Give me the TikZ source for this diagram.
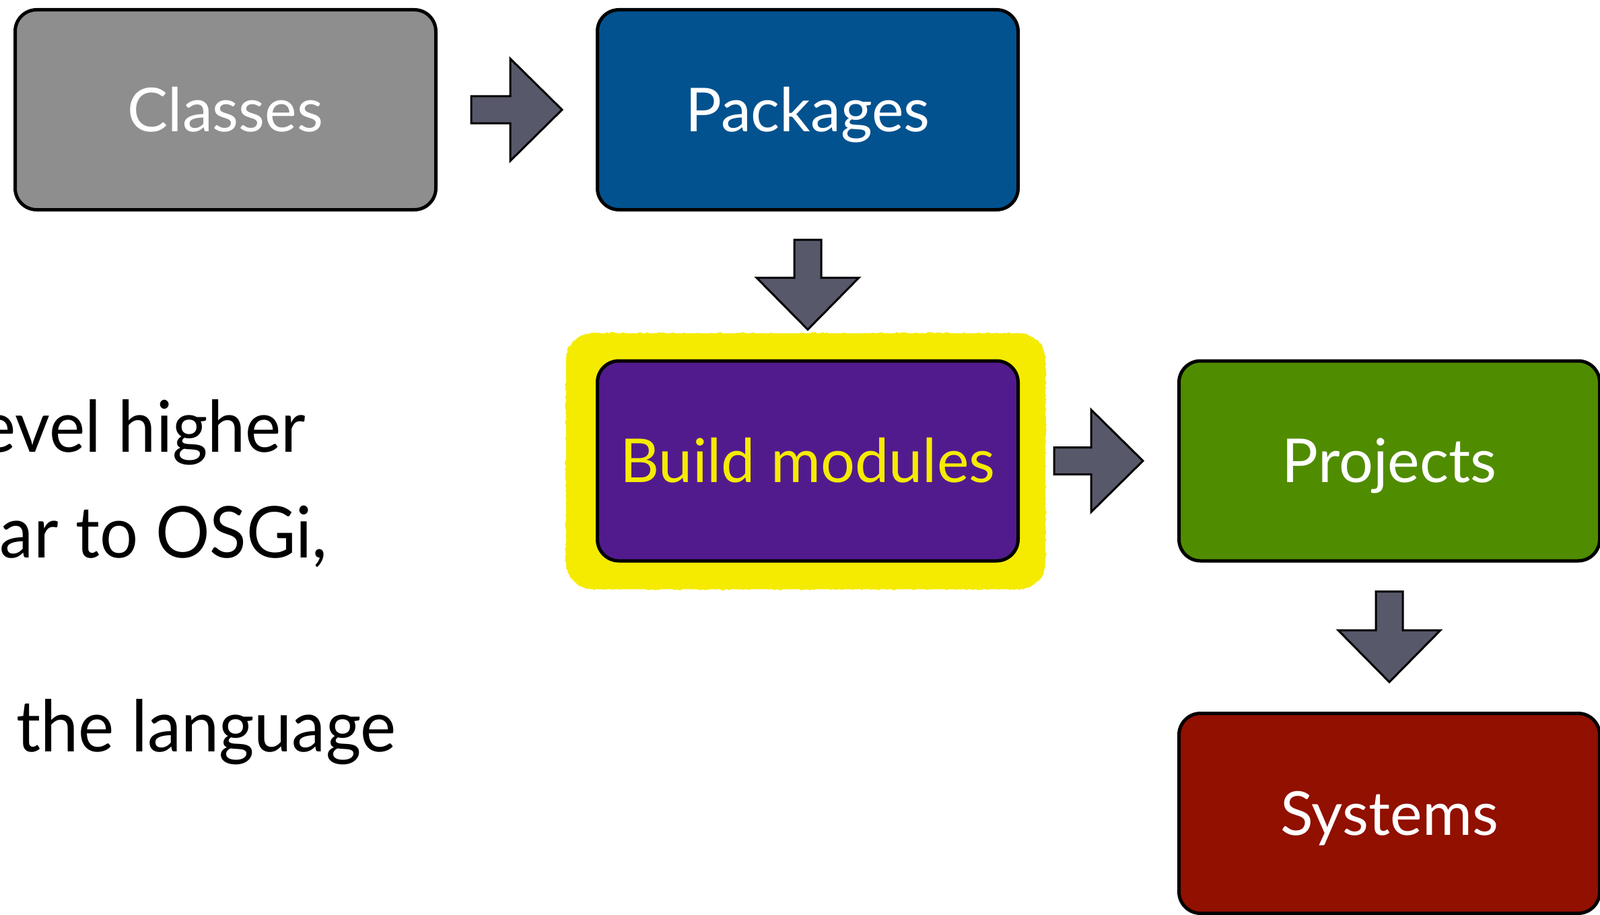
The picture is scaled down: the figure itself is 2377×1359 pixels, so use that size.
\documentclass[tikz,border=0pt]{standalone}
\usepackage{fontspec}
\setmainfont{Lato}
\newfontfamily\bodyfont[FakeStretch=0.95]{Lato}
\usetikzlibrary{calc,decorations.pathmorphing}
\definecolor{cgray}{HTML}{8E8E8E}
\definecolor{cblue}{HTML}{02528F}
\definecolor{cpurple}{HTML}{521B8D}
\definecolor{cgreen}{HTML}{508C00}
\definecolor{cred}{HTML}{911000}
\definecolor{carrow}{HTML}{575869}
\definecolor{cyellow}{HTML}{F5EB00}
\newcommand\blockarr[2]{%
  \coordinate (bh) at ($(#2)!38.5pt!(#1)$);
  \draw[blockarrow] ($(#1)!10pt!90:(#2)$) -- ($(bh)!10pt!-90:(#1)$) -- ($(bh)!38pt!-90:(#1)$) -- (#2)
    -- ($(bh)!38pt!90:(#1)$) -- ($(bh)!10pt!90:(#1)$) -- ($(#1)!10pt!-90:(#2)$) -- cycle;}
\newcommand\glowpath{(881,495) -- (1513,495) arc[start angle=-90, end angle=0, radius=40]
  -- (1553,835) arc[start angle=0, end angle=90, radius=40]
  -- (881,875) arc[start angle=90, end angle=180, radius=40]
  -- (841,535) arc[start angle=180, end angle=270, radius=40] -- cycle}
\begin{document}
\begin{tikzpicture}[x=0.5pt,y=-0.5pt,
  box/.style={draw=black, line width=2.5pt, rounded corners=16pt,
    minimum width=312.5pt, minimum height=148.5pt, inner sep=0pt,
    text=white, text height=32pt, text depth=0pt,
    font=\fontsize{45}{54}\selectfont},
  blockarrow/.style={draw=black, fill=carrow, line width=1.5pt, line join=miter},
  bodytext/.style={anchor=base east, inner sep=0pt, font=\bodyfont\fontsize{53}{62}\selectfont}]
\useasboundingbox (0,0) rectangle (2377,1359);

% glow behind build modules
\fill[cyellow] \glowpath;
\fill[cyellow, decorate, decoration={random steps, segment length=1.5pt, amplitude=0.9pt}] \glowpath;

\node[box, fill=cgray]   (classes)  at (335,163)   {Classes};
\node[box, fill=cblue]   (packages) at (1200,163)  {Packages};
\node[box, fill=cpurple, text=cyellow] (build) at (1200,684.5) {Build modules};
\node[box, fill=cgreen]  (projects) at (2064,684.5) {Projects};
\node[box, fill=cred]    (systems)  at (2064,1208) {Systems};

\coordinate (a1s) at ($(classes.east)+(50,0)$);
\coordinate (a1e) at ($(packages.west)+(-50,0)$);
\coordinate (a2s) at ($(packages.south)+(0,42)$);
\coordinate (a2e) at ($(build.north)+(0,-44)$);
\coordinate (a3s) at ($(build.east)+(51,0)$);
\coordinate (a3e) at ($(projects.west)+(-51,0)$);
\coordinate (a4s) at ($(projects.south)+(0,43)$);
\coordinate (a4e) at ($(systems.north)+(0,-44)$);
\blockarr{a1s}{a1e}
\blockarr{a2s}{a2e}
\blockarr{a3s}{a3e}
\blockarr{a4s}{a4e}

\node[bodytext] (t1) at (455,671)  {evel higher};
\node[bodytext] (t2) at (487,828)  {ar to OSGi,};
\node[bodytext] (t3) at (589,1116) {f the language};
\end{tikzpicture}
\end{document}
